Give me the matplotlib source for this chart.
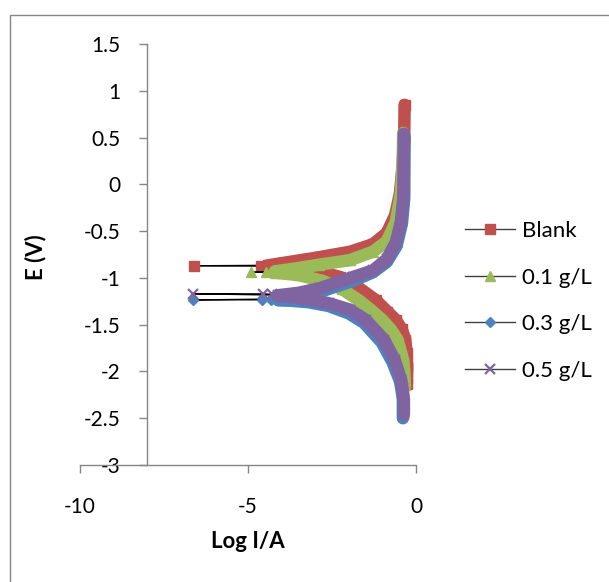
import matplotlib
matplotlib.use("Agg")
import matplotlib.pyplot as plt
from matplotlib.lines import Line2D
from matplotlib.patches import Rectangle

plt.rcParams['font.family'] = ['Lato', 'DejaVu Sans']
plt.rcParams['axes.unicode_minus'] = False

# ---- data (log I, E) ----
# each series: cathodic branch (from far end towards Ecorr), points near Ecorr, anodic branch
blank_low_x = [-0.27, -0.26, -0.28, -0.32, -0.42, -0.60, -0.85, -1.19, -1.80, -2.26, -2.80, -3.50, -4.10, -4.45]
blank_low_e = [-2.13, -1.95, -1.80, -1.66, -1.55, -1.45, -1.36, -1.24, -1.08, -0.99, -0.94, -0.905, -0.885, -0.88]
blank_corr_x = [-4.60, -6.60]
blank_corr_e = [-0.875, -0.87]
blank_up_x = [-4.40, -3.95, -2.90, -1.96, -1.28, -0.87, -0.62, -0.48, -0.40, -0.35, -0.34]
blank_up_e = [-0.865, -0.84, -0.78, -0.72, -0.64, -0.52, -0.33, -0.10, 0.20, 0.50, 0.85]

g01_low_x = [-0.33, -0.35, -0.38, -0.55, -0.75, -1.00, -1.35, -1.70, -2.20, -2.80, -3.50, -4.20]
g01_low_e = [-2.15, -2.00, -1.88, -1.66, -1.55, -1.45, -1.34, -1.24, -1.12, -1.03, -0.97, -0.945]
g01_corr_x = [-4.45, -4.90]
g01_corr_e = [-0.94, -0.94]
g01_up_x = [-4.20, -3.60, -2.90, -1.96, -1.28, -0.87, -0.60, -0.45, -0.40, -0.38]
g01_up_e = [-0.93, -0.90, -0.86, -0.81, -0.72, -0.61, -0.40, -0.10, 0.20, 0.55]

g03_low_x = [-0.39, -0.39, -0.43, -0.48, -0.70, -1.02, -1.55, -2.00, -2.60, -3.20, -3.70, -4.10]
g03_low_e = [-2.50, -2.30, -2.20, -2.10, -1.90, -1.69, -1.48, -1.38, -1.30, -1.26, -1.245, -1.24]
g03_corr_x = [-4.32, -4.58, -6.64]
g03_corr_e = [-1.235, -1.235, -1.235]
g03_up_x = [-4.10, -3.50, -2.86, -1.87, -1.28, -0.87, -0.58, -0.42, -0.35, -0.34]
g03_up_e = [-1.225, -1.20, -1.15, -1.03, -0.94, -0.83, -0.66, -0.42, -0.15, 0.50]

g05_low_x = [-0.36, -0.36, -0.40, -0.44, -0.63, -0.95, -1.49, -1.96, -2.60, -3.20, -3.70, -4.10]
g05_low_e = [-2.46, -2.30, -2.18, -2.09, -1.88, -1.66, -1.45, -1.34, -1.27, -1.23, -1.205, -1.195]
g05_corr_x = [-4.30, -4.55, -6.64]
g05_corr_e = [-1.175, -1.17, -1.17]
g05_up_x = [-4.10, -3.50, -2.86, -1.87, -1.28, -0.87, -0.60, -0.45, -0.38, -0.36]
g05_up_e = [-1.185, -1.16, -1.11, -0.99, -0.92, -0.80, -0.62, -0.40, -0.15, 0.54]

labels = ['Blank', '0.1 g/L', '0.3 g/L', '0.5 g/L']
colors = ['#C0504D', '#9BBB59', '#4F81BD', '#8064A2']
markers = ['s', '^', 'D', 'x']

series = [
    (blank_low_x, blank_low_e, blank_corr_x, blank_corr_e, blank_up_x, blank_up_e),
    (g01_low_x, g01_low_e, g01_corr_x, g01_corr_e, g01_up_x, g01_up_e),
    (g03_low_x, g03_low_e, g03_corr_x, g03_corr_e, g03_up_x, g03_up_e),
    (g05_low_x, g05_low_e, g05_corr_x, g05_corr_e, g05_up_x, g05_up_e),
]

W, H = 609, 582
fig = plt.figure(figsize=(W / 100, H / 100), dpi=100)
ax = fig.add_axes([80 / W, 1 - 465 / H, 336 / W, 421 / H])

for i, (lx, le, cx, ce, ux, ue) in enumerate(series):
    z = 3 + i
    c = colors[i]
    all_x = lx + cx + ux
    all_e = le + ce + ue
    # thin connecting line, then the dense run of markers as a thick band
    ax.plot(all_x, all_e, color='black', lw=0.9, zorder=z)
    ax.plot(lx + ux, le + ue, color=c, lw=9, solid_capstyle='round',
            solid_joinstyle='round', zorder=z + 0.1)
    ms = 6.5 if markers[i] != 'D' else 5.5
    ax.plot(all_x, all_e, ls='none', marker=markers[i], color=c, ms=ms,
            mew=1.6 if markers[i] == 'x' else 1, zorder=z + 0.2)

ax.set_xlim(-10, 0)
ax.set_ylim(-3, 1.5)
ax.set_xticks([-10, -5, 0])
ax.set_yticks([1.5, 1, 0.5, 0, -0.5, -1, -1.5, -2, -2.5, -3])
ax.set_yticklabels(['1.5', '1', '0.5', '0', '-0.5', '-1', '-1.5', '-2', '-2.5', '-3'])

ax.spines['top'].set_visible(False)
ax.spines['right'].set_visible(False)
ax.spines['left'].set_position(('data', -8))
for s in ['left', 'bottom']:
    ax.spines[s].set_color('#868686')
    ax.spines[s].set_linewidth(1)
ax.tick_params(axis='both', colors='#868686', labelcolor='black', labelsize=15,
               direction='out', length=6, width=1)
ax.tick_params(axis='x', pad=17)
ax.tick_params(axis='y', pad=13)
ax.patch.set_visible(False)

fig.text(36 / W, 1 - 257 / H, 'E (V)', rotation=90, ha='center', va='center',
         fontsize=16, fontweight='bold')
fig.text(248 / W, 1 - 541 / H, 'Log I/A', ha='center', va='center',
         fontsize=16, fontweight='bold')

handles = [Line2D([0], [0], color='#404040', lw=1, marker=markers[i],
                  markerfacecolor=colors[i], markeredgecolor=colors[i],
                  ms=6.5 if markers[i] != 'D' else 5.5,
                  mew=1.6 if markers[i] == 'x' else 1) for i in range(4)]
fig.legend(handles, labels, loc='upper left', bbox_to_anchor=(456 / W, 1 - 212 / H),
           frameon=False, fontsize=16, handlelength=2.25, handletextpad=0.3,
           labelspacing=1.2, borderaxespad=0)

# chart frame
fig.patches.append(Rectangle((10 / W, -0.1), 1.2, (1 - 15 / H) + 0.1,
                             transform=fig.transFigure, fill=False,
                             edgecolor='#868686', lw=1))

fig.savefig('out.png', dpi=100)
